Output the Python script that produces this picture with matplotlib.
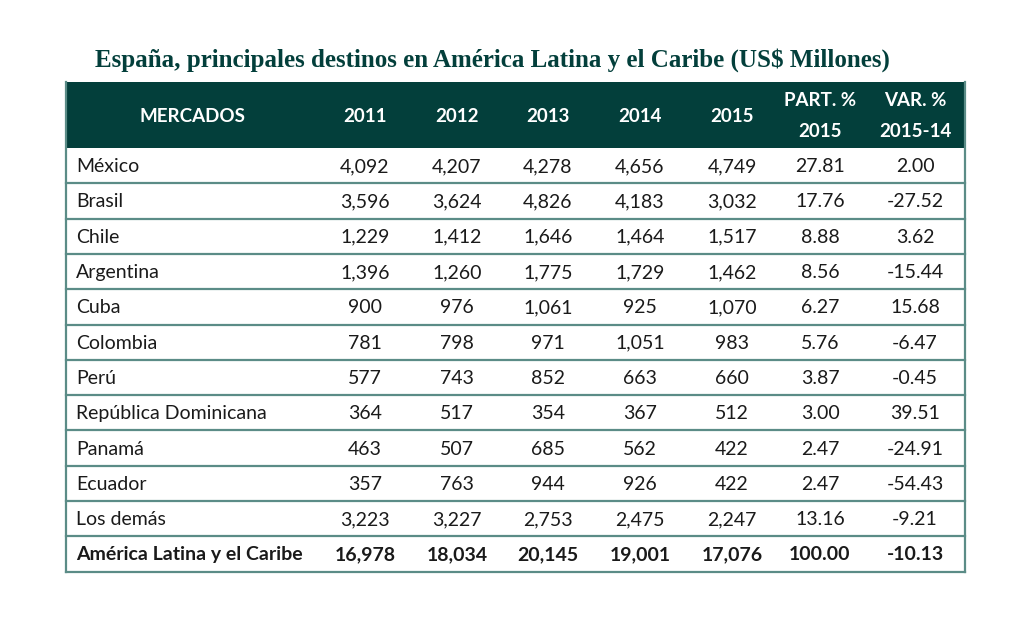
import matplotlib.pyplot as plt

TITLE = "España, principales destinos en América Latina y el Caribe (US$ Millones)"
HEADERS = ["MERCADOS", "2011", "2012", "2013", "2014", "2015", "PART. %\n2015", "VAR. %\n2015-14"]
MARKETS = ["México", "Brasil", "Chile", "Argentina", "Cuba", "Colombia", "Perú",
           "República Dominicana", "Panamá", "Ecuador", "Los demás"]
V2011 = [4092, 3596, 1229, 1396, 900, 781, 577, 364, 463, 357, 3223]
V2012 = [4207, 3624, 1412, 1260, 976, 798, 743, 517, 507, 763, 3227]
V2013 = [4278, 4826, 1646, 1775, 1061, 971, 852, 354, 685, 944, 2753]
V2014 = [4656, 4183, 1464, 1729, 925, 1051, 663, 367, 562, 926, 2475]
V2015 = [4749, 3032, 1517, 1462, 1070, 983, 660, 512, 422, 422, 2247]
PART = [27.81, 17.76, 8.88, 8.56, 6.27, 5.76, 3.87, 3.00, 2.47, 2.47, 13.16]
VAR = [2.00, -27.52, 3.62, -15.44, 15.68, -6.47, -0.45, 39.51, -24.91, -54.43, -9.21]
TOTAL_LABEL = "América Latina y el Caribe"
TOTAL_YEARS = [16978, 18034, 20145, 19001, 17076]
TOTAL_PART = 100.00
TOTAL_VAR = -10.13

DARK = "#033f3b"
LINE = "#5b8c87"
TXT = "#1a1a1a"

fig = plt.figure(figsize=(10.24, 6.26), dpi=100)
ax = fig.add_axes([0, 0, 1, 1])
ax.set_xlim(0, 1024)
ax.set_ylim(626, 0)
ax.axis("off")

left, right = 66, 965
head_top, head_bot = 82, 148
row_h = 35.3
col_x = [192, 365, 457, 548, 640, 732, 820, 915]

ax.text(492, 60, TITLE, ha="center", va="center", fontsize=18, fontweight="bold",
        color=DARK, family="Liberation Serif")

ax.add_patch(plt.Rectangle((left, head_top), right - left, head_bot - head_top,
                           facecolor=DARK, edgecolor="none"))
for x, h in zip(col_x, HEADERS):
    ax.text(x, (head_top + head_bot) / 2 + 1, h, ha="center", va="center", fontsize=13.5,
            fontweight="bold", color="white", family="Lato", linespacing=1.95)

rows = []
for i, m in enumerate(MARKETS):
    rows.append((m, [f"{v:,}" for v in (V2011[i], V2012[i], V2013[i], V2014[i], V2015[i])]
                 + [f"{PART[i]:.2f}", f"{VAR[i]:.2f}"], "normal"))
rows.append((TOTAL_LABEL, [f"{v:,}" for v in TOTAL_YEARS]
             + [f"{TOTAL_PART:.2f}", f"{TOTAL_VAR:.2f}"], "bold"))

for i, (name, vals, wt) in enumerate(rows):
    y0 = head_bot + i * row_h
    yc = y0 + row_h / 2 + 1
    ax.text(76, yc, name, ha="left", va="center", fontsize=14, color=TXT,
            family="Lato", fontweight=wt)
    for x, v in zip(col_x[1:], vals):
        ax.text(x, yc, v, ha="center", va="center", fontsize=14, color=TXT,
                family="Lato", fontweight=wt)
    ax.plot([left, right], [y0 + row_h, y0 + row_h], color=LINE, lw=1.6)

bottom = head_bot + len(rows) * row_h
ax.plot([left, left], [head_top, bottom], color=LINE, lw=1.6)
ax.plot([right, right], [head_top, bottom], color=LINE, lw=1.6)

fig.savefig("out.png", dpi=100)
